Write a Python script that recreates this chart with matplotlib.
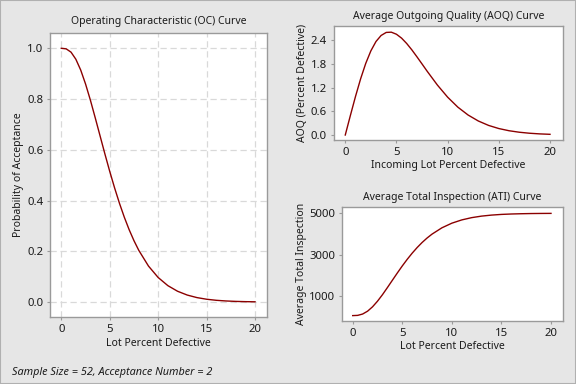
import matplotlib
matplotlib.use("Agg")
import matplotlib.pyplot as plt

plt.rcParams['font.family'] = ['Noto Sans', 'DejaVu Sans']

# Lot percent defective
pct = [0, 0.5, 1, 1.5, 2, 2.5, 3, 3.5, 4, 4.5, 5, 5.5, 6, 6.5, 7, 7.5, 8,
       9, 10, 11, 12, 13, 14, 15, 16, 17, 18, 19, 20]
# Probability of acceptance (OC)
p_accept = [1.0, 0.9977, 0.9847, 0.9567, 0.9142, 0.8592, 0.7956, 0.7260, 0.6547,
            0.5834, 0.5145, 0.4497, 0.3894, 0.3346, 0.2853, 0.2418, 0.2035,
            0.1417, 0.0966, 0.0646, 0.0425, 0.0275, 0.0175, 0.0110, 0.0068,
            0.0042, 0.0025, 0.0015, 0.0009]
# Average outgoing quality (percent defective)
aoq = [0.0, 0.494, 0.9745, 1.4201, 1.8094, 2.1257, 2.3620, 2.5146, 2.5916,
       2.5980, 2.5457, 2.4476, 2.3121, 2.1523, 1.9763, 1.7946, 1.6111,
       1.2620, 0.9560, 0.7032, 0.5047, 0.3538, 0.2425, 0.1633, 0.108,
       0.0702, 0.0449, 0.0282, 0.0176]
# Average total inspection
ati = [52, 63, 128, 266, 477, 749, 1063, 1408, 1761, 2113, 2454, 2775, 3073,
       3344, 3588, 3804, 3993, 4299, 4522, 4680, 4790, 4864, 4913, 4946,
       4966, 4979, 4988, 4993, 4996]

oc_yticks = [0.0, 0.2, 0.4, 0.6, 0.8, 1.0]
aoq_yticks = [0.0, 0.6, 1.2, 1.8, 2.4]
ati_yticks = [1000, 3000, 5000]
xticks = [0, 5, 10, 15, 20]

LINE = "#8B0000"
BG = "#E6E6E6"
FRAME = "#9A9A9A"
TXT = "#1A1A1A"

W, H = 576, 384
fig = plt.figure(figsize=(W / 100, H / 100), dpi=100, facecolor=BG)

def ax_at(l, t, r, b):
    return fig.add_axes([l / W, 1 - b / H, (r - l) / W, (b - t) / H])

def style(ax):
    ax.set_facecolor("white")
    for s in ax.spines.values():
        s.set_color(FRAME)
        s.set_linewidth(1.0)
    ax.tick_params(length=2, color=FRAME, labelsize=8.2, labelcolor=TXT, pad=3)

# OC curve
ax1 = ax_at(50.3, 33.3, 267.3, 317)
style(ax1)
ax1.plot(pct, p_accept, color=LINE, lw=1.0)
ax1.set_xlim(-1.14, 21.27)
ax1.set_ylim(-0.059, 1.059)
ax1.set_xticks(xticks)
ax1.set_yticks(oc_yticks)
ax1.set_yticklabels([f"{v:.1f}" for v in oc_yticks])
ax1.grid(True, color="#D9D9D9", linestyle=(0, (5, 3)), lw=0.9)
ax1.set_axisbelow(True)
ax1.set_title("Operating Characteristic (OC) Curve", fontsize=7.5, color=TXT, pad=7)
ax1.set_xlabel("Lot Percent Defective", fontsize=7.5, color=TXT, labelpad=2)
ax1.set_ylabel("Probability of Acceptance", fontsize=7.5, color=TXT, labelpad=2)

# AOQ curve
ax2 = ax_at(333.7, 26, 562.7, 140)
style(ax2)
ax2.plot(pct, aoq, color=LINE, lw=1.0)
ax2.set_xlim(-1.13, 21.24)
ax2.set_ylim(-0.126, 2.754)
ax2.set_xticks(xticks)
ax2.set_yticks(aoq_yticks)
ax2.set_yticklabels([f"{v:.1f}" for v in aoq_yticks])
ax2.set_title("Average Outgoing Quality (AOQ) Curve", fontsize=7.5, color=TXT, pad=5)
ax2.set_xlabel("Incoming Lot Percent Defective", fontsize=7.5, color=TXT, labelpad=1.5)
ax2.set_ylabel("AOQ (Percent Defective)", fontsize=7.5, color=TXT, labelpad=1.5)

# ATI curve
ax3 = ax_at(342.3, 206.7, 562.7, 321)
style(ax3)
ax3.plot(pct, ati, color=LINE, lw=1.0)
ax3.set_xlim(-1.05, 21.18)
ax3.set_ylim(-209, 5319)
ax3.set_xticks(xticks)
ax3.set_yticks(ati_yticks)
ax3.set_title("Average Total Inspection (ATI) Curve", fontsize=7.5, color=TXT, pad=5)
ax3.set_xlabel("Lot Percent Defective", fontsize=7.5, color=TXT, labelpad=1.5)
ax3.set_ylabel("Average Total Inspection", fontsize=7.5, color=TXT, labelpad=1.5)

fig.text(12 / W, 1 - 373 / H, "Sample Size = 52, Acceptance Number = 2",
         fontsize=7.8, style="italic", color=TXT, va="center", ha="left")

# outer border
fig.patches.append(plt.Rectangle((0, 0), 1, 1, transform=fig.transFigure,
                                 fill=False, edgecolor="#B0B0B0", lw=1.5))

fig.savefig("out.png", dpi=100, facecolor=BG)
